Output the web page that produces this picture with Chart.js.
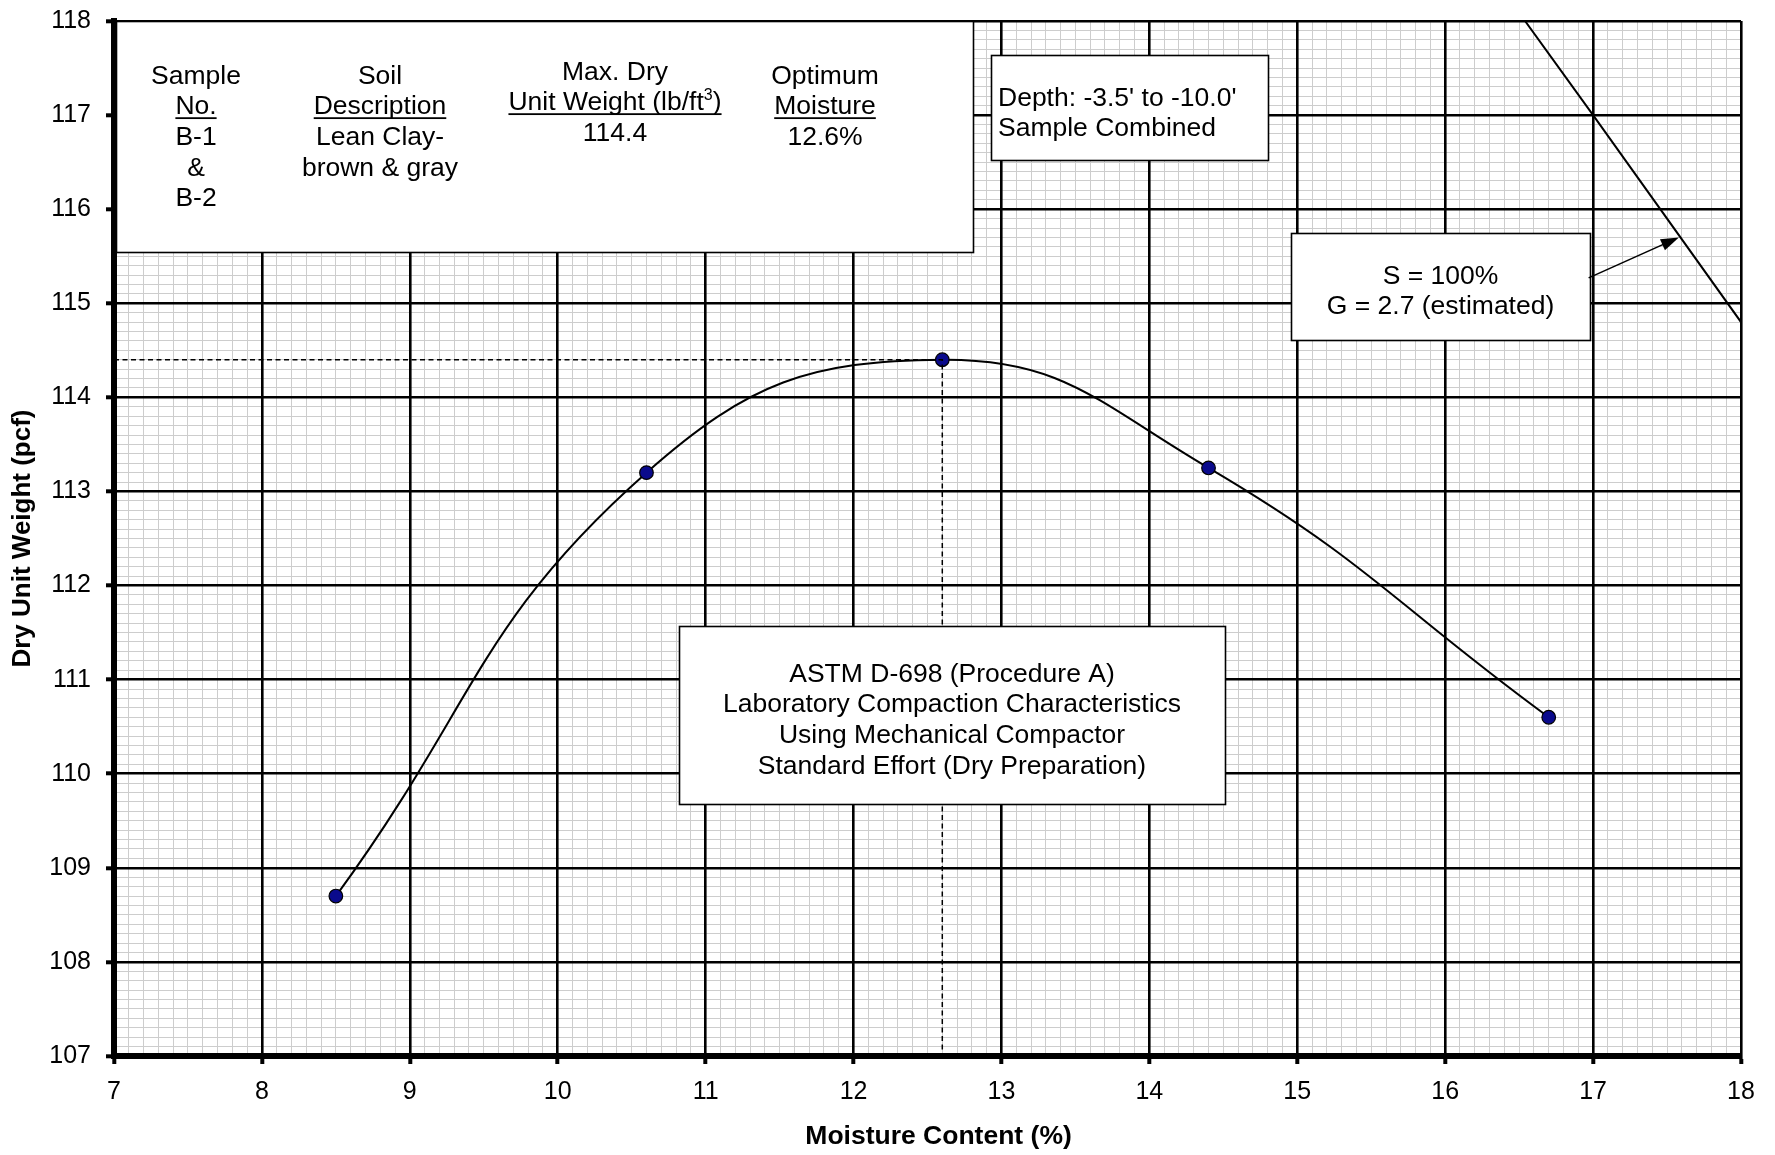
<!DOCTYPE html>
<html>
<head>
<meta charset="utf-8">
<script src="https://cdn.jsdelivr.net/npm/chart.js@4.4.0/dist/chart.umd.min.js"></script>
<style>
  html, body { margin: 0; padding: 0; background: #fff; }
  #wrap { width: 1775px; height: 1155px; }
</style>
</head>
<body>
<div id="wrap"><canvas id="myChart" width="1775" height="1155"></canvas></div>
<script>
// compaction test points
const moisture = [8.5, 10.6, 12.6, 14.4, 16.7];
const dryWeight = [108.7, 113.2, 114.4, 113.25, 110.6];

// zero air voids line (S = 100%, G = 2.7)
const zavMoisture = [16.54, 17, 18];
const zavWeight = [118, 117, 114.8];

// optimum point (dashed guides)
const optMoisture = 12.6;
const maxDryWeight = 114.4;

// axis ranges / tick labels
const xTickLabels = [7, 8, 9, 10, 11, 12, 13, 14, 15, 16, 17, 18];
const yTickLabels = [107, 108, 109, 110, 111, 112, 113, 114, 115, 116, 117, 118];

const FONT = '"Liberation Sans", Arial, sans-serif';

function isMajor(v) {
    return Math.abs(v - Math.round(v)) < 1e-6;
}

// text boxes, corners in data units, text offsets in px from the box top
const boxes = [
    { x0: 7.015, y0: 118, x1: 12.81, y1: 115.55, kind: 'info' },
    { x0: 12.93, y0: 117.64, x1: 14.80, y1: 116.52, align: 'left',
      lines: ["Depth: -3.5' to -10.0'", 'Sample Combined'], first: 41 },
    { x0: 14.96, y0: 115.75, x1: 16.98, y1: 114.61, align: 'center',
      lines: ['S = 100%', 'G = 2.7 (estimated)'], first: 41 },
    { x0: 10.82, y0: 111.57, x1: 14.51, y1: 109.68, align: 'center',
      lines: ['ASTM D-698 (Procedure A)', 'Laboratory Compaction Characteristics',
              'Using Mechanical Compactor', 'Standard Effort (Dry Preparation)'], first: 46 }
];

const infoColumns = [
    { dx: 80, dy: 0, lines: ['Sample', '_No.', 'B-1', '&', 'B-2'] },
    { dx: 264, dy: 0, lines: ['Soil', '_Description', 'Lean Clay-', 'brown & gray'] },
    { dx: 499, dy: -4, lines: ['Max. Dry', '^Unit Weight (lb/ft', '114.4'] },
    { dx: 709, dy: 0, lines: ['Optimum', '_Moisture', '12.6%'] }
];

const FS = 26.5;
const LINE = 30.7;

function drawLine(ctx, text, x, y, align) {
    // y is the visual middle of the line
    const base = y + FS * 0.36;
    ctx.font = FS + 'px ' + FONT;
    if (text.startsWith('^')) {
        // underlined text with superscript 3
        const main = text.slice(1);
        const w1 = ctx.measureText(main).width;
        ctx.font = Math.round(FS * 0.62) + 'px ' + FONT;
        const w2 = ctx.measureText('3').width;
        ctx.font = FS + 'px ' + FONT;
        const w3 = ctx.measureText(')').width;
        const tot = w1 + w2 + w3;
        const sx = x - tot / 2;
        ctx.textAlign = 'left';
        ctx.fillText(main, sx, base);
        ctx.font = Math.round(FS * 0.62) + 'px ' + FONT;
        ctx.fillText('3', sx + w1, base - FS * 0.38);
        ctx.font = FS + 'px ' + FONT;
        ctx.fillText(')', sx + w1 + w2, base);
        ctx.fillRect(sx, base + 3, tot, 1.8);
        return;
    }
    let under = false;
    if (text.startsWith('_')) { under = true; text = text.slice(1); }
    ctx.textAlign = align;
    ctx.fillText(text, x, base);
    if (under) {
        const w = ctx.measureText(text).width;
        const sx = align === 'center' ? x - w / 2 : x;
        ctx.fillRect(sx, base + 3, w, 1.8);
    }
}

// keep black grid lines on top of the light minor ones
const gridBlend = {
    id: 'gridBlend',
    beforeDraw(chart) {
        chart.ctx.save();
        chart.ctx.globalCompositeOperation = 'darken';
    },
    beforeDatasetsDraw(chart) {
        chart.ctx.restore();
    }
};

const boxPlugin = {
    id: 'boxes',
    afterDatasetsDraw(chart) {
        const ctx = chart.ctx, xs = chart.scales.x, ys = chart.scales.y;
        ctx.save();
        ctx.textBaseline = 'alphabetic';
        boxes.forEach(b => {
            const l = Math.round(xs.getPixelForValue(b.x0));
            const r = Math.round(xs.getPixelForValue(b.x1));
            const t = Math.round(ys.getPixelForValue(b.y0));
            const bt = Math.round(ys.getPixelForValue(b.y1));
            ctx.fillStyle = '#fff';
            ctx.fillRect(l, t, r - l, bt - t);
            ctx.strokeStyle = '#000';
            ctx.lineWidth = 1.6;
            ctx.strokeRect(l + 0.5, t + 0.5, r - l, bt - t);
            ctx.fillStyle = '#000';
            if (b.kind === 'info') {
                infoColumns.forEach(col => {
                    col.lines.forEach((txt, i) => {
                        drawLine(ctx, txt, l + col.dx, t + 53 + col.dy + i * LINE, 'center');
                    });
                });
            } else {
                const x = b.align === 'left' ? l + 7 : (l + r) / 2;
                b.lines.forEach((txt, i) => {
                    drawLine(ctx, txt, x, t + b.first + i * LINE, b.align);
                });
            }
        });

        // arrow from S box to the zero air voids line
        const ax0 = xs.getPixelForValue(16.97), ay0 = ys.getPixelForValue(115.27);
        const ax1 = xs.getPixelForValue(17.58), ay1 = ys.getPixelForValue(115.70);
        const ang = Math.atan2(ay1 - ay0, ax1 - ax0);
        ctx.strokeStyle = '#000';
        ctx.lineWidth = 1.6;
        ctx.beginPath();
        ctx.moveTo(ax0, ay0);
        ctx.lineTo(ax1 - 14 * Math.cos(ang), ay1 - 14 * Math.sin(ang));
        ctx.stroke();
        ctx.beginPath();
        ctx.moveTo(ax1, ay1);
        ctx.lineTo(ax1 - 18 * Math.cos(ang) + 6 * Math.sin(ang), ay1 - 18 * Math.sin(ang) - 6 * Math.cos(ang));
        ctx.lineTo(ax1 - 18 * Math.cos(ang) - 6 * Math.sin(ang), ay1 - 18 * Math.sin(ang) + 6 * Math.cos(ang));
        ctx.closePath();
        ctx.fill();
        ctx.restore();
    }
};

const testPoints = moisture.map((m, i) => ({ x: m, y: dryWeight[i] }));
const zavPoints = zavMoisture.map((m, i) => ({ x: m, y: zavWeight[i] }));
const guidePoints = [
    { x: xTickLabels[0], y: maxDryWeight },
    { x: optMoisture, y: maxDryWeight },
    { x: optMoisture, y: yTickLabels[0] }
];

function gridOpts() {
    return {
        color: c => isMajor(c.tick.value) ? '#000' : '#cdcdcd',
        lineWidth: c => isMajor(c.tick.value) ? 2.6 : 1,
        tickColor: c => isMajor(c.tick.value) ? '#000' : 'rgba(255,255,255,0)',
        tickWidth: 4,
        tickLength: 8
    };
}

// chart area position is fixed by layout padding, not by label overhang
function noOverhang(s) {
    s.paddingTop = 0;
    s.paddingBottom = 0;
    s.paddingLeft = 0;
    s.paddingRight = 0;
}

const ctx = document.getElementById('myChart').getContext('2d');
const myChart = new Chart(ctx, {
    type: 'scatter',
    data: {
        datasets: [
            {
                data: guidePoints,
                showLine: true,
                borderColor: '#000',
                borderWidth: 1.5,
                borderDash: [5, 3.5],
                pointRadius: 0
            },
            {
                data: zavPoints,
                showLine: true,
                borderColor: '#000',
                borderWidth: 2,
                pointRadius: 0
            },
            {
                data: testPoints,
                showLine: true,
                tension: 0.45,
                borderColor: '#000',
                borderWidth: 2,
                pointRadius: 6.8,
                pointBackgroundColor: '#0a0a8c',
                pointBorderColor: '#000',
                pointBorderWidth: 1.2
            }
        ]
    },
    options: {
        responsive: false,
        animation: false,
        devicePixelRatio: 1,
        layout: { padding: { top: 21, right: 34, bottom: 0, left: 0 } },
        plugins: { legend: { display: false }, tooltip: { enabled: false } },
        scales: {
            x: {
                type: 'linear',
                min: xTickLabels[0],
                max: xTickLabels[xTickLabels.length - 1],
                afterFit: s => { s.height = 99; noOverhang(s); },
                border: { color: '#000', width: 6 },
                grid: gridOpts(),
                ticks: {
                    stepSize: 0.1,
                    autoSkip: false,
                    maxRotation: 0,
                    padding: 13,
                    color: '#000',
                    font: { family: FONT, size: 25 },
                    callback: v => isMajor(v) ? String(Math.round(v)) : ''
                },
                title: {
                    display: true,
                    text: '\u00a0\u00a0\u00a0Moisture Content (%)',
                    color: '#000',
                    font: { family: FONT, size: 26.5, weight: 'bold' },
                    padding: { top: 0, bottom: 2 }
                }
            },
            y: {
                type: 'linear',
                min: yTickLabels[0],
                max: yTickLabels[yTickLabels.length - 1],
                afterFit: s => { s.width = 114; noOverhang(s); },
                border: { color: '#000', width: 6 },
                grid: gridOpts(),
                ticks: {
                    stepSize: 0.1,
                    autoSkip: false,
                    padding: 15,
                    color: '#000',
                    font: { family: FONT, size: 25 },
                    callback: v => isMajor(v) ? String(Math.round(v)) : ''
                },
                title: {
                    display: true,
                    text: 'Dry Unit Weight (pcf)',
                    color: '#000',
                    font: { family: FONT, size: 26, weight: 'bold' },
                    padding: { top: 7, bottom: 0 }
                }
            }
        }
    },
    plugins: [gridBlend, boxPlugin]
});
</script>
</body>
</html>
